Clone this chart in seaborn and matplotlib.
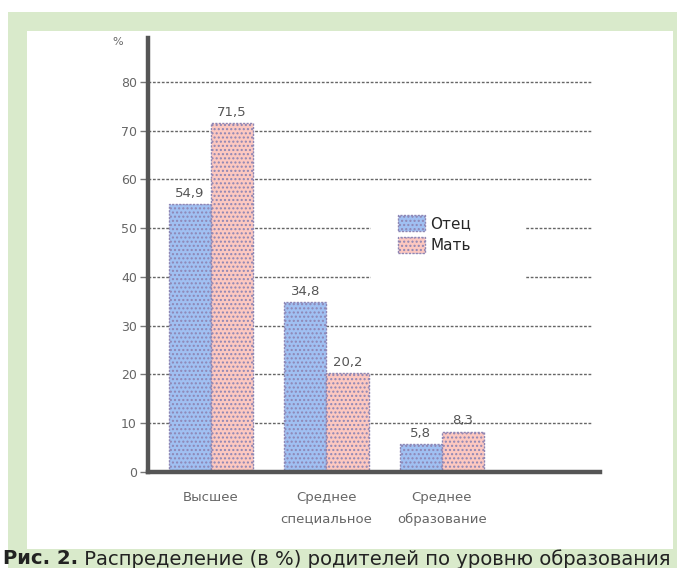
import matplotlib
matplotlib.use("Agg")
import matplotlib.pyplot as plt
import matplotlib.patches as mpatches
import seaborn as sns
import pandas as pd

# Education levels and shares (%) for fathers and mothers
categories = ["Высшее", "Среднее\nспециальное", "Среднее\nобразование"]
series_names = ["Отец", "Мать"]
father_values = [54.9, 34.8, 5.8]
mother_values = [71.5, 20.2, 8.3]
value_labels_father = ["54,9", "34,8", "5,8"]
value_labels_mother = ["71,5", "20,2", "8,3"]
y_ticks = [0, 10, 20, 30, 40, 50, 60, 70, 80]
caption_bold = "Рис. 2."
caption_rest = " Распределение (в %) родителей по уровню образования"

df = pd.DataFrame({
    "level": categories * 2,
    "parent": [series_names[0]] * 3 + [series_names[1]] * 3,
    "share": father_values + mother_values,
})

sns.set_theme(style="white")
plt.rcParams["font.family"] = ["DejaVu Sans"]

W, H = 677, 568
fig = plt.figure(figsize=(W / 100, H / 100), dpi=100)
fig.patch.set_facecolor("white")

# green frame and white panel
fig.add_artist(mpatches.Rectangle((8 / W, 0), 1, 1 - 12 / H, transform=fig.transFigure,
                                  facecolor="#d9eacb", edgecolor="none", zorder=-3))
fig.add_artist(mpatches.Rectangle((27 / W, 19 / H), (673 - 27) / W, (549 - 31) / H,
                                  transform=fig.transFigure, facecolor="white",
                                  edgecolor="none", zorder=-2))

ax_left, ax_right = 148, 600
ax_top, ax_bottom = 38, 472
ax = fig.add_axes([ax_left / W, (H - ax_bottom) / H, (ax_right - ax_left) / W,
                   (ax_bottom - ax_top) / H])
ax.set_facecolor("none")

edge = "#8e86b4"
palette = {"Отец": "#a0c0f2", "Мать": "#fdc8c0"}
sns.barplot(data=df, x="level", y="share", hue="parent", hue_order=series_names,
            palette=palette, width=0.73, gap=0, ax=ax, legend=False,
            edgecolor=edge, linewidth=1.0, saturation=1, zorder=3)

for p in ax.patches:
    p.set_hatch("....")
    p.set_linestyle((0, (1.5, 1)))

ax.set_xlim(-0.545, 3.37)
ax.set_ylim(0, 89)
ax.set_yticks(y_ticks)
ax.set_xlabel("")
ax.set_ylabel("")

# dotted gridlines
for v in y_ticks[1:]:
    ax.axhline(v, xmin=0, xmax=(592 - ax_left) / (ax_right - ax_left),
               color="#666666", lw=1.0, ls=(0, (2, 1.2)), zorder=1)

# white box behind the legend that interrupts the gridlines
ax.add_patch(mpatches.Rectangle((371 / W, 1 - 284 / H), (525 - 371) / W, (284 - 205) / H,
                                transform=fig.transFigure, facecolor="white",
                                edgecolor="none", zorder=2, clip_on=False))

for s in ["top", "right"]:
    ax.spines[s].set_visible(False)
for s in ["left", "bottom"]:
    ax.spines[s].set_color("#555555")
    ax.spines[s].set_linewidth(3.2)
    ax.spines[s].set_zorder(4)

ax.tick_params(axis="y", which="major", left=True, length=6, width=1,
               color="#777777", labelsize=9, labelcolor="#666666", pad=2)
ax.tick_params(axis="x", which="major", bottom=False, length=0, labelsize=9.5,
               labelcolor="#666666", pad=14)
for t in ax.get_xticklabels():
    t.set_linespacing(1.8)

# value labels
for cont, labels in zip(ax.containers, [value_labels_father, value_labels_mother]):
    ax.bar_label(cont, labels=labels, padding=3, fontsize=9.5, color="#555555")

# percent sign at the top of the axis
fig.text(118 / W, 1 - 42 / H, "%", fontsize=8, color="#666666", ha="center", va="center")

# legend
handles = [mpatches.Patch(facecolor=palette[n], edgecolor=edge, hatch="....",
                          linestyle=(0, (1.5, 1)), label=n) for n in series_names]
leg = ax.legend(handles=handles, loc="upper left",
                bbox_to_anchor=(390 / W, 1 - 207 / H), bbox_transform=fig.transFigure,
                frameon=False, fontsize=11, handlelength=1.8, handleheight=1.3,
                handletextpad=0.35, labelspacing=0.35, borderpad=0.5,
                borderaxespad=0)
leg.set_zorder(5)

# caption with bold prefix, sized to fill the width of the frame
fig.canvas.draw()
renderer = fig.canvas.get_renderer()
cap_y = 1 - 559 / H
size = 12.5
t1 = fig.text(3 / W, cap_y, caption_bold, fontsize=size, fontweight="bold",
              color="#222222", ha="left", va="center")
t2 = fig.text(0, cap_y, caption_rest, fontsize=size, color="#222222",
              ha="left", va="center")
for _ in range(3):
    bb1 = t1.get_window_extent(renderer)
    t2.set_x(bb1.x1 / W)
    bb2 = t2.get_window_extent(renderer)
    total = bb2.x1 - bb1.x0
    size = size * (672 - 3) / total
    t1.set_fontsize(size)
    t2.set_fontsize(size)
bb1 = t1.get_window_extent(renderer)
t2.set_x(bb1.x1 / W)

fig.savefig("out.png", dpi=100)
